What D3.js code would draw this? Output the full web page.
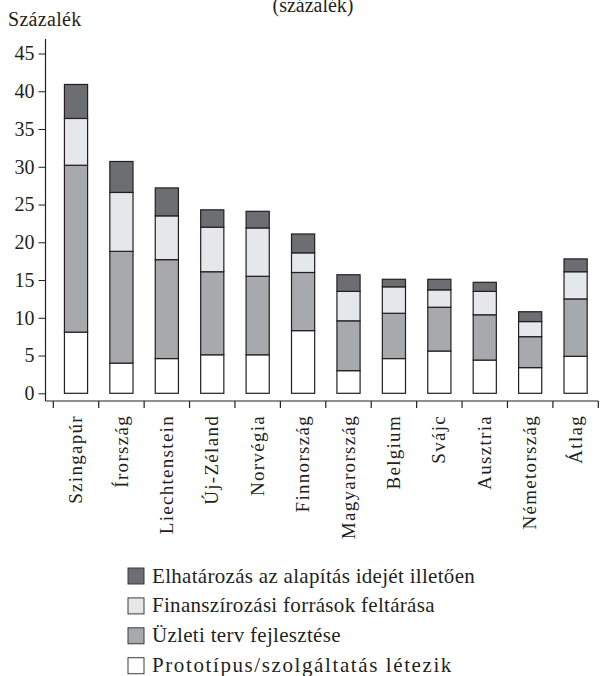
<!DOCTYPE html>
<html>
<head>
<meta charset="utf-8">
<script src="https://cdn.jsdelivr.net/npm/d3@7"></script>
<style>
  html, body { margin: 0; padding: 0; background: #fff; }
  svg { display: block; }
</style>
</head>
<body>
<svg id="chart" width="602" height="676" font-family="'Liberation Serif', 'Times New Roman', serif"></svg>
<script>
const categories = ["Szingapúr", "Írország", "Liechtenstein", "Új-Zéland", "Norvégia", "Finnország",
  "Magyarország", "Belgium", "Svájc", "Ausztria", "Németország", "Átlag"];
const prototipus = [8.1, 4.0, 4.6, 5.1, 5.1, 8.3, 3.0, 4.6, 5.6, 4.4, 3.4, 4.9];
const uzletiTerv = [22.1, 14.8, 13.1, 11.0, 10.4, 7.7, 6.6, 6.0, 5.8, 6.0, 4.1, 7.6];
const finanszirozas = [6.2, 7.8, 5.8, 5.9, 6.4, 2.6, 3.9, 3.5, 2.3, 3.1, 2.0, 3.6];
const elhatarozas = [4.5, 4.1, 3.7, 2.3, 2.2, 2.5, 2.2, 1.0, 1.4, 1.2, 1.3, 1.7];
const seriesNames = ["Prototípus/szolgáltatás létezik", "Üzleti terv fejlesztése",
  "Finanszírozási források feltárása", "Elhatározás az alapítás idejét illetően"];
const seriesColors = ["#ffffff", "#a7a9ac", "#e6e7e8", "#6d6e71"];
const yTicks = [0, 5, 10, 15, 20, 25, 30, 35, 40, 45];
const title = "(százalék)";
const yTitle = "Százalék";

const svg = d3.select("#chart");
const ink = "#231f20";

const x = d3.scaleBand().domain(categories).range([53.3, 598.3]).padding(0);
const y = d3.scaleLinear().domain([0, 45]).range([393.3, 53.5]);
const axisX = 45.5, axisY = 401;

const keys = ["p", "u", "f", "e"];
const rows = categories.map((c, i) => ({ cat: c, p: prototipus[i], u: uzletiTerv[i], f: finanszirozas[i], e: elhatarozas[i] }));
const stacked = d3.stack().keys(keys)(rows);

// title
svg.append("text").attr("x", 313).attr("y", 12).attr("text-anchor", "middle")
  .attr("font-size", 20).attr("fill", ink).text(title);
svg.append("text").attr("x", 8).attr("y", 26).attr("font-size", 20).attr("fill", ink)
  .attr("letter-spacing", 0.3).text(yTitle);

// y axis
const yAxis = d3.axisLeft(y).tickValues(yTicks).tickSize(7).tickPadding(4).tickFormat(d3.format("d"));
const gy = svg.append("g").attr("transform", `translate(${axisX},0)`).call(yAxis);
gy.attr("font-family", null).attr("font-size", null);
gy.select(".domain").remove();
gy.selectAll(".tick line").attr("stroke", ink).attr("stroke-width", 1);
gy.selectAll(".tick text").attr("font-size", 20).attr("fill", ink);
svg.append("line").attr("x1", axisX).attr("x2", axisX).attr("y1", 39).attr("y2", axisY)
  .attr("stroke", ink).attr("stroke-width", 1.2);

// x axis
svg.append("line").attr("x1", axisX).attr("x2", x.range()[1]).attr("y1", axisY).attr("y2", axisY)
  .attr("stroke", ink).attr("stroke-width", 1.2);
const bounds = categories.map(c => x(c)).concat([x.range()[1]]);
svg.append("g").selectAll("line").data(bounds).join("line")
  .attr("x1", d => d).attr("x2", d => d).attr("y1", axisY).attr("y2", axisY + 7)
  .attr("stroke", ink).attr("stroke-width", 1.2);
svg.append("g").selectAll("text").data(categories).join("text")
  .attr("transform", d => `translate(${x(d) + x.bandwidth() / 2},415) rotate(-90)`)
  .attr("text-anchor", "end").attr("dy", "0.32em")
  .attr("font-size", 19).attr("letter-spacing", 1.3).attr("fill", ink)
  .text(d => d);

// bars
const barW = x.bandwidth() * 0.51;
svg.append("g").selectAll("g").data(stacked).join("g")
  .attr("fill", (d, i) => seriesColors[i])
  .selectAll("rect").data(d => d).join("rect")
  .attr("x", d => x(d.data.cat) + (x.bandwidth() - barW) / 2)
  .attr("width", barW)
  .attr("y", d => y(d[1]))
  .attr("height", d => y(d[0]) - y(d[1]))
  .attr("stroke", ink).attr("stroke-width", 1.2);

// legend (top to bottom: reverse stack order)
const legendOrder = [3, 2, 1, 0];
const lg = svg.append("g").selectAll("g").data(legendOrder).join("g")
  .attr("transform", (d, i) => `translate(128,${576 + i * 29.9})`);
lg.append("rect").attr("x", 0).attr("y", -8).attr("width", 16).attr("height", 16)
  .attr("fill", d => seriesColors[d]).attr("stroke", "#3a3a3c").attr("stroke-width", 1);
lg.append("text").attr("x", 24).attr("y", 6.5).attr("font-size", 21)
  .attr("letter-spacing", d => d === 0 ? 1.6 : 0.3).attr("fill", ink).text(d => seriesNames[d]);
</script>
</body>
</html>
